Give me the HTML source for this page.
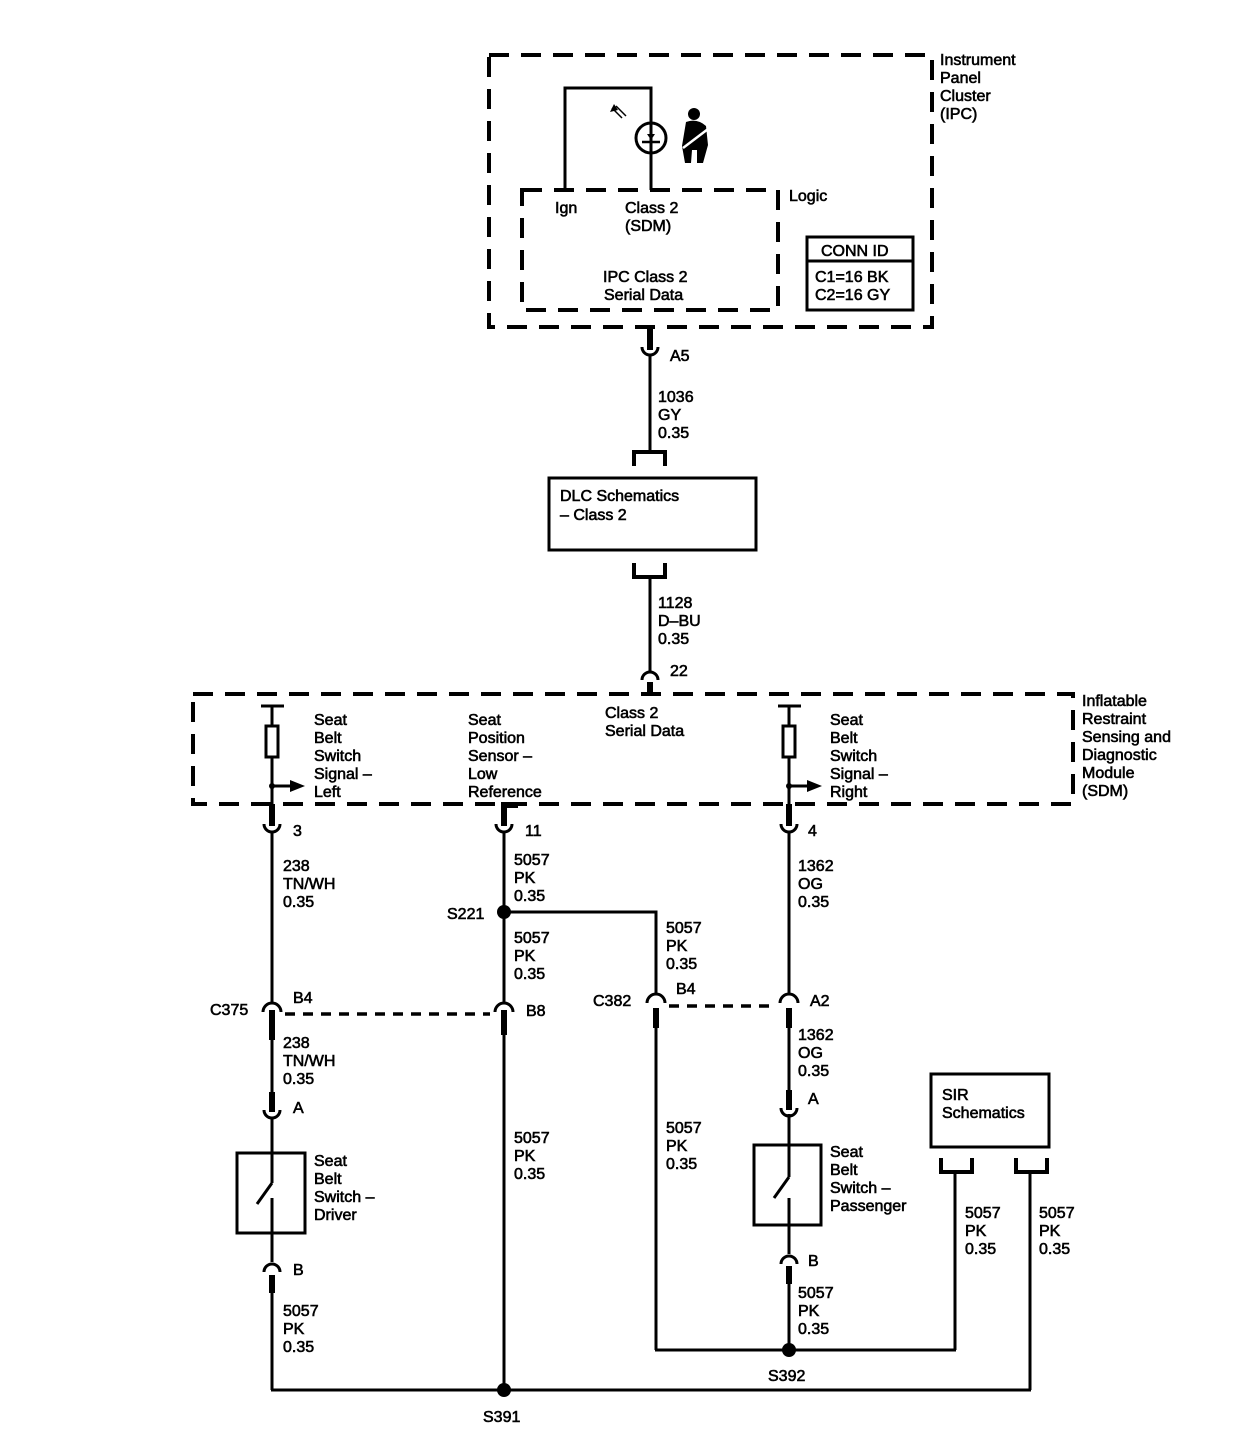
<!DOCTYPE html>
<html><head><meta charset="utf-8"><style>
html,body{margin:0;padding:0;background:#fff}
svg{display:block}
text{font-family:"Liberation Sans",Arial,sans-serif;font-size:16px;fill:#000;stroke:#000;stroke-width:0.6}
</style></head><body>
<svg width="1258" height="1456" viewBox="0 0 1258 1456" xmlns="http://www.w3.org/2000/svg">
<g fill="none" stroke="#000">
<rect x="489" y="55" width="443" height="272" stroke-width="4" stroke-dasharray="20,12"/>
<rect x="522" y="190" width="256" height="120" stroke-width="4" stroke-dasharray="20,12"/>
<rect x="807" y="237" width="106" height="73" stroke-width="3"/>
<line x1="807" y1="261" x2="913" y2="261" stroke-width="3"/>
<polyline points="565,190 565,88 651,88 651,190" stroke-width="3"/>
<circle cx="651" cy="138" r="15" stroke-width="3"/>
<line x1="642" y1="142" x2="660" y2="142" stroke-width="2.5"/>
<line x1="612" y1="108" x2="622" y2="118" stroke-width="1.5"/>
<line x1="616" y1="106" x2="626" y2="116" stroke-width="1.5"/>
<line x1="650" y1="327" x2="650" y2="350" stroke-width="6"/>
<path d="M642,347 A8,8 0 0 0 658,347" stroke-width="3"/>
<line x1="650" y1="355" x2="650" y2="452" stroke-width="3"/>
<polyline points="634,466 634,452 665,452 665,466" stroke-width="4"/>
<rect x="549" y="478" width="207" height="72" stroke-width="3"/>
<polyline points="634,563 634,577 665,577 665,563" stroke-width="4"/>
<line x1="650" y1="577" x2="650" y2="672" stroke-width="3"/>
<path d="M642,680 A8,8 0 0 1 658,680" stroke-width="3"/>
<line x1="650" y1="682" x2="650" y2="695" stroke-width="6"/>
<rect x="193" y="694" width="880" height="110" stroke-width="4" stroke-dasharray="20,12"/>
<line x1="261" y1="706" x2="284" y2="706" stroke-width="3"/>
<line x1="272" y1="706" x2="272" y2="805" stroke-width="3"/>
<rect x="266" y="726" width="12" height="31" fill="#fff" stroke-width="3"/>
<line x1="272" y1="786" x2="290" y2="786" stroke-width="3"/>
<line x1="778" y1="706" x2="801" y2="706" stroke-width="3"/>
<line x1="789" y1="706" x2="789" y2="805" stroke-width="3"/>
<rect x="783" y="726" width="12" height="31" fill="#fff" stroke-width="3"/>
<line x1="789" y1="786" x2="807" y2="786" stroke-width="3"/>
<line x1="272" y1="804" x2="272" y2="826" stroke-width="6"/>
<path d="M264,824 A8,8 0 0 0 280,824" stroke-width="3"/>
<polyline points="504,826 504,805 518,805" stroke-width="6"/>
<path d="M496,824 A8,8 0 0 0 512,824" stroke-width="3"/>
<line x1="789" y1="804" x2="789" y2="826" stroke-width="6"/>
<path d="M781,824 A8,8 0 0 0 797,824" stroke-width="3"/>
<line x1="272" y1="832" x2="272" y2="1004" stroke-width="3"/>
<line x1="504" y1="832" x2="504" y2="1004" stroke-width="3"/>
<line x1="789" y1="832" x2="789" y2="995" stroke-width="3"/>
<polyline points="504,912 656,912 656,995" stroke-width="3"/>
<path d="M263,1012 A9,9 0 0 1 281,1012" stroke-width="3"/>
<path d="M495,1012 A9,9 0 0 1 513,1012" stroke-width="3"/>
<line x1="285" y1="1014" x2="490" y2="1014" stroke-width="3.5" stroke-dasharray="10,8"/>
<line x1="272" y1="1010" x2="272" y2="1040" stroke-width="6"/>
<line x1="504" y1="1010" x2="504" y2="1035" stroke-width="6"/>
<line x1="504" y1="1030" x2="504" y2="1390" stroke-width="3"/>
<path d="M647,1003 A9,9 0 0 1 665,1003" stroke-width="3"/>
<path d="M780,1003 A9,9 0 0 1 798,1003" stroke-width="3"/>
<line x1="669" y1="1006" x2="776" y2="1006" stroke-width="3.5" stroke-dasharray="10,8"/>
<line x1="656" y1="1008" x2="656" y2="1028" stroke-width="6"/>
<line x1="789" y1="1008" x2="789" y2="1028" stroke-width="6"/>
<line x1="656" y1="1025" x2="656" y2="1350" stroke-width="3"/>
<line x1="789" y1="1025" x2="789" y2="1095" stroke-width="3"/>
<line x1="272" y1="1035" x2="272" y2="1095" stroke-width="3"/>
<line x1="272" y1="1092" x2="272" y2="1112" stroke-width="6"/>
<path d="M264,1110 A8,8 0 0 0 280,1110" stroke-width="3"/>
<line x1="272" y1="1117" x2="272" y2="1183" stroke-width="3"/>
<rect x="237" y="1153" width="68" height="80" stroke-width="3"/>
<line x1="272" y1="1183" x2="257" y2="1204" stroke-width="3"/>
<line x1="272" y1="1198" x2="272" y2="1262" stroke-width="3"/>
<path d="M264,1272 A8,8 0 0 1 280,1272" stroke-width="3"/>
<line x1="272" y1="1275" x2="272" y2="1293" stroke-width="6"/>
<line x1="272" y1="1290" x2="272" y2="1390" stroke-width="3"/>
<line x1="789" y1="1090" x2="789" y2="1110" stroke-width="6"/>
<path d="M781,1108 A8,8 0 0 0 797,1108" stroke-width="3"/>
<line x1="789" y1="1114" x2="789" y2="1177" stroke-width="3"/>
<rect x="754" y="1145" width="67" height="80" stroke-width="3"/>
<line x1="789" y1="1177" x2="774" y2="1198" stroke-width="3"/>
<line x1="789" y1="1198" x2="789" y2="1254" stroke-width="3"/>
<path d="M781,1264 A8,8 0 0 1 797,1264" stroke-width="3"/>
<line x1="789" y1="1266" x2="789" y2="1284" stroke-width="6"/>
<line x1="789" y1="1280" x2="789" y2="1350" stroke-width="3"/>
<rect x="931" y="1074" width="118" height="73" stroke-width="3"/>
<polyline points="941,1158 941,1172 972,1172 972,1158" stroke-width="4"/>
<polyline points="1016,1158 1016,1172 1047,1172 1047,1158" stroke-width="4"/>
<line x1="955" y1="1172" x2="955" y2="1350" stroke-width="3"/>
<line x1="1030" y1="1172" x2="1030" y2="1390" stroke-width="3"/>
<line x1="655" y1="1350" x2="956" y2="1350" stroke-width="3"/>
<line x1="271" y1="1390" x2="1031" y2="1390" stroke-width="3"/>
</g>
<g fill="#000">
<polygon points="647,134 655,134 651,140"/>
<polygon points="614,104 610,112 618,110"/>
<polygon points="290,780 305,786 290,792"/>
<polygon points="807,780 822,786 807,792"/>
<circle cx="504" cy="912" r="7"/>
<circle cx="789" cy="1350" r="7"/>
<circle cx="504" cy="1390" r="7"/>
<circle cx="272" cy="786" r="3"/><circle cx="789" cy="786" r="3"/>
<circle cx="694" cy="114" r="6"/>
<path d="M686,122 Q697,118 706,126 L708,145 L703,163 L697,163 L697,150 L692,150 L691,163 L685,163 L682,146 Z"/>
</g>
<line x1="683" y1="148" x2="712" y2="126" stroke="#fff" stroke-width="2.5"/>
<text x="940" y="65">Instrument</text><text x="940" y="83">Panel</text><text x="940" y="101">Cluster</text><text x="940" y="119">(IPC)</text>
<text x="789" y="201">Logic</text>
<text x="555" y="213">Ign</text>
<text x="625" y="213">Class 2</text><text x="625" y="231">(SDM)</text>
<text x="603" y="282">IPC Class 2</text><text x="604" y="300">Serial Data</text>
<text x="821" y="256">CONN ID</text>
<text x="815" y="282">C1=16 BK</text><text x="815" y="300">C2=16 GY</text>
<text x="670" y="361">A5</text>
<text x="658" y="402">1036</text><text x="658" y="420">GY</text><text x="658" y="438">0.35</text>
<text x="560" y="501">DLC Schematics</text><text x="560" y="520">– Class 2</text>
<text x="658" y="608">1128</text><text x="658" y="626">D–BU</text><text x="658" y="644">0.35</text>
<text x="670" y="676">22</text>
<text x="1082" y="706">Inflatable</text><text x="1082" y="724">Restraint</text><text x="1082" y="742">Sensing and</text><text x="1082" y="760">Diagnostic</text><text x="1082" y="778">Module</text><text x="1082" y="796">(SDM)</text>
<text x="314" y="725">Seat</text><text x="314" y="743">Belt</text><text x="314" y="761">Switch</text><text x="314" y="779">Signal –</text><text x="314" y="797">Left</text>
<text x="468" y="725">Seat</text><text x="468" y="743">Position</text><text x="468" y="761">Sensor –</text><text x="468" y="779">Low</text><text x="468" y="797">Reference</text>
<text x="605" y="718">Class 2</text><text x="605" y="736">Serial Data</text>
<text x="830" y="725">Seat</text><text x="830" y="743">Belt</text><text x="830" y="761">Switch</text><text x="830" y="779">Signal –</text><text x="830" y="797">Right</text>
<text x="293" y="836">3</text><text x="525" y="836">11</text><text x="808" y="836">4</text>
<text x="283" y="871">238</text><text x="283" y="889">TN/WH</text><text x="283" y="907">0.35</text>
<text x="514" y="865">5057</text><text x="514" y="883">PK</text><text x="514" y="901">0.35</text>
<text x="447" y="919">S221</text>
<text x="514" y="943">5057</text><text x="514" y="961">PK</text><text x="514" y="979">0.35</text>
<text x="666" y="933">5057</text><text x="666" y="951">PK</text><text x="666" y="969">0.35</text>
<text x="798" y="871">1362</text><text x="798" y="889">OG</text><text x="798" y="907">0.35</text>
<text x="293" y="1003">B4</text><text x="210" y="1015">C375</text><text x="526" y="1016">B8</text>
<text x="593" y="1006">C382</text><text x="676" y="994">B4</text><text x="810" y="1006">A2</text>
<text x="283" y="1048">238</text><text x="283" y="1066">TN/WH</text><text x="283" y="1084">0.35</text>
<text x="798" y="1040">1362</text><text x="798" y="1058">OG</text><text x="798" y="1076">0.35</text>
<text x="293" y="1113">A</text><text x="808" y="1104">A</text>
<text x="942" y="1100">SIR</text><text x="942" y="1118">Schematics</text>
<text x="514" y="1143">5057</text><text x="514" y="1161">PK</text><text x="514" y="1179">0.35</text>
<text x="666" y="1133">5057</text><text x="666" y="1151">PK</text><text x="666" y="1169">0.35</text>
<text x="314" y="1166">Seat</text><text x="314" y="1184">Belt</text><text x="314" y="1202">Switch –</text><text x="314" y="1220">Driver</text>
<text x="830" y="1157">Seat</text><text x="830" y="1175">Belt</text><text x="830" y="1193">Switch –</text><text x="830" y="1211">Passenger</text>
<text x="965" y="1218">5057</text><text x="965" y="1236">PK</text><text x="965" y="1254">0.35</text>
<text x="1039" y="1218">5057</text><text x="1039" y="1236">PK</text><text x="1039" y="1254">0.35</text>
<text x="293" y="1275">B</text><text x="808" y="1266">B</text>
<text x="283" y="1316">5057</text><text x="283" y="1334">PK</text><text x="283" y="1352">0.35</text>
<text x="798" y="1298">5057</text><text x="798" y="1316">PK</text><text x="798" y="1334">0.35</text>
<text x="768" y="1381">S392</text>
<text x="483" y="1422">S391</text>
</svg>
</body></html>
